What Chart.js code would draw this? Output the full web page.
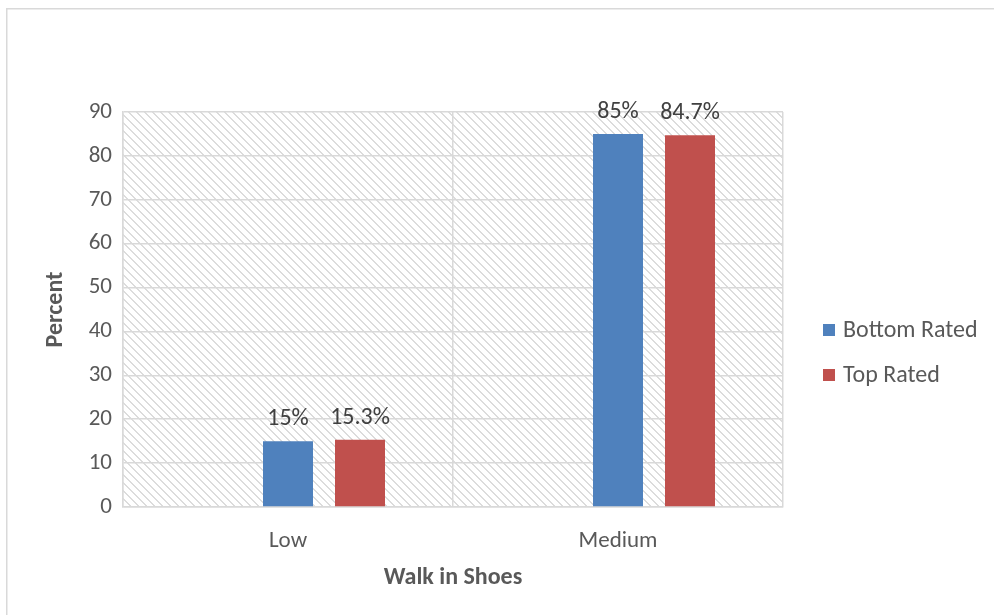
<!DOCTYPE html>
<html>
<head>
<meta charset="utf-8">
<script src="https://cdn.jsdelivr.net/npm/chart.js@4"></script>
<style>
  html, body { margin: 0; padding: 0; background: #ffffff; }
  #wrap { width: 994px; height: 615px; position: relative; }
</style>
</head>
<body>
<div id="wrap"><canvas id="c" width="994" height="615"></canvas></div>
<script>
// Categories and series
const categories = ['Low', 'Medium'];
const seriesNames = ['Bottom Rated', 'Top Rated'];
const bottomRated = [15, 85];
const topRated = [15.3, 84.7];
const yTicks = [0, 10, 20, 30, 40, 50, 60, 70, 80, 90];

const FONT = "Carlito, Calibri, Lato, sans-serif";
const BLUE = '#4f81bd';
const RED = '#c0504d';
const GRID = '#d9d9d9';
const TEXT = '#595959';

// Light diagonal hatch for the plot area
function makeHatch() {
  const t = document.createElement('canvas');
  t.width = 8; t.height = 8;
  const g = t.getContext('2d');
  g.fillStyle = '#ffffff';
  g.fillRect(0, 0, 8, 8);
  g.fillStyle = '#dcdcdc';
  for (let i = 0; i < 8; i++) {
    g.fillRect(i, i, 1, 1);
    g.fillRect((i + 1) % 8, i, 1, 1);
  }
  return g.createPattern(t, 'repeat');
}

const hatchPlugin = {
  id: 'hatch',
  beforeDraw(chart) {
    const { ctx, chartArea: a } = chart;
    ctx.save();
    ctx.fillStyle = makeHatch();
    ctx.fillRect(a.left, a.top, a.right - a.left, a.bottom - a.top);
    ctx.restore();
  },
  afterDraw(chart) {
    // outer frame of the chart object
    const ctx = chart.ctx;
    ctx.save();
    ctx.strokeStyle = '#d9d9d9';
    ctx.lineWidth = 1.5;
    ctx.strokeRect(6.75, 8.75, 1100, 800);
    ctx.restore();
  }
};

// Percent labels above each bar
const valueLabels = {
  id: 'valueLabels',
  afterDatasetsDraw(chart) {
    const ctx = chart.ctx;
    ctx.save();
    ctx.font = '24px ' + FONT;
    ctx.fillStyle = '#404040';
    ctx.textAlign = 'center';
    ctx.textBaseline = 'alphabetic';
    chart.data.datasets.forEach((ds, di) => {
      if (!ds.showLabels) return;
      const meta = chart.getDatasetMeta(di);
      meta.data.forEach((el, i) => {
        const v = ds.data[i];
        if (v == null) return;
        ctx.fillText(v + '%', el.x, el.y - 16);
      });
    });
    ctx.restore();
  }
};

// Legend drawn at the right of the plot
const sideLegend = {
  id: 'sideLegend',
  afterDraw(chart) {
    const ctx = chart.ctx;
    const items = chart.data.datasets.filter(d => d.inLegend);
    ctx.save();
    ctx.font = '24px ' + FONT;
    ctx.textBaseline = 'middle';
    ctx.textAlign = 'left';
    items.forEach((ds, k) => {
      const cy = 330 + k * 45;
      ctx.fillStyle = ds.backgroundColor;
      ctx.fillRect(823, cy - 6, 12, 12);
      ctx.fillStyle = TEXT;
      ctx.fillText(ds.label, 843, cy + 1);
    });
    ctx.restore();
  }
};

const chart = new Chart(document.getElementById('c'), {
  type: 'bar',
  data: {
    labels: categories,
    datasets: [
      { label: '', data: [null, null], backgroundColor: 'rgba(0,0,0,0)', inLegend: false, showLabels: false },
      { label: seriesNames[0], data: bottomRated, backgroundColor: BLUE, inLegend: true, showLabels: true },
      { label: seriesNames[1], data: topRated, backgroundColor: RED, inLegend: true, showLabels: true }
    ]
  },
  options: {
    responsive: false,
    animation: false,
    devicePixelRatio: 1,
    categoryPercentage: 216 / 330,
    barPercentage: 50 / 72,
    layout: { padding: { left: 0, top: 112, right: 211, bottom: 0 } },
    plugins: {
      legend: { display: false },
      tooltip: { enabled: false }
    },
    scales: {
      x: {
        grid: { color: GRID, lineWidth: 1.5, drawTicks: false, offset: true },
        border: { color: GRID, width: 1.5 },
        ticks: { color: TEXT, font: { family: FONT, size: 23 }, padding: 20 },
        title: { display: true, text: 'Walk in Shoes', color: TEXT,
                 font: { family: FONT, size: 24, weight: 'bold' }, padding: { top: 0, bottom: 23 } },
        afterFit(s) { s.height = 615 - 507; }
      },
      y: {
        min: 0, max: 90,
        afterBuildTicks(s) { s.ticks = yTicks.map(v => ({ value: v })); },
        grid: { color: GRID, lineWidth: 1.5, drawTicks: false },
        border: { color: GRID, width: 1.5 },
        ticks: { color: TEXT, font: { family: FONT, size: 23 }, padding: 11 },
        title: { display: true, text: 'Percent', color: TEXT,
                 font: { family: FONT, size: 24, weight: 'bold' }, padding: { top: 42, bottom: 0 } },
        afterFit(s) { s.width = 123; }
      }
    }
  },
  plugins: [hatchPlugin, valueLabels, sideLegend]
});
</script>
</body>
</html>
